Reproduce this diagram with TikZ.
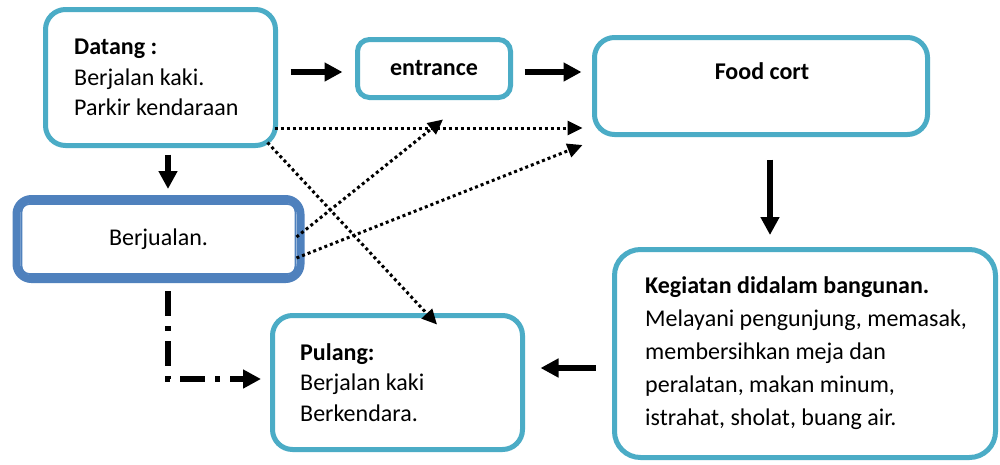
\documentclass[tikz,border=0pt]{standalone}
\usepackage{fontspec}
\setmainfont{Carlito}
\usetikzlibrary{arrows.meta,calc}
\definecolor{tealbd}{RGB}{75,172,198}
\definecolor{berjblue}{RGB}{79,129,189}
\begin{document}
\begin{tikzpicture}[x=1pt,y=-1pt,
  font=\fontsize{24}{30.5}\selectfont,
  box/.style={draw=tealbd, line width=5pt, rounded corners=20pt, inner sep=0pt},
  txt/.style={align=left, inner sep=0pt, anchor=west},
  solidarrow/.style={line width=5.5pt, -{Triangle[length=18pt,width=18pt]}},
  dotarrow/.style={line width=3pt, dash pattern=on 3pt off 3pt, -{Triangle[length=15pt,width=14pt]}},
  dasharrow/.style={line width=5.5pt, dash pattern=on 25pt off 10pt on 5pt off 10pt, -{Triangle[length=18pt,width=18pt]}}
]
\useasboundingbox (0,0) rectangle (1000,464);
\fill[white] (0,0) rectangle (1000,464);

% boxes
\node[box, minimum width=230pt, minimum height=136pt] (datang) at (160.5,77.5) {};
\node[box, rounded corners=12pt, minimum width=153pt, minimum height=58pt, font=\fontsize{24}{30.5}\selectfont\bfseries] (entrance) at (434,68.5) {entrance};
\node[box, minimum width=333pt, minimum height=97pt] (food) at (761,86) {};
\node[draw=berjblue, line width=8pt, rounded corners=15pt, minimum width=284pt, minimum height=80pt, inner sep=0pt] (berj) at (158.5,239) {Berjualan.};
\draw[berjblue, line width=1.8pt, rounded corners=8pt] ($(berj.north west)+(9,9)$) rectangle ($(berj.south east)+(-9,-9)$);
\node[box, minimum width=250pt, minimum height=134pt] (pulang) at (397.5,382.5) {};
\node[box, rounded corners=26pt, minimum width=381pt, minimum height=208pt] (keg) at (805,353.5) {};

% texts
\node[txt] (datangtxt) at (74,77.5) {\textbf{Datang :}\\Berjalan kaki.\\Parkir kendaraan};
\node[inner sep=0pt, font=\fontsize{24}{30.5}\selectfont\bfseries] (foodtxt) at (762,71) {Food cort};
\node[txt] (pulangtxt) at (300,382.5) {\textbf{Pulang:}\\Berjalan kaki\\Berkendara.};
\node[txt, font=\fontsize{24}{33}\selectfont] (kegtxt) at (645,353) {\textbf{Kegiatan didalam bangunan.}\\Melayani pengunjung, memasak,\\membersihkan meja dan\\peralatan, makan minum,\\istrahat, sholat, buang air.};

% solid arrows
\draw[solidarrow] ($(datang.east |- entrance.west)+(12.5,3.5)$) -- ($(entrance.west)+(-12.5,3.5)$);
\draw[solidarrow] ($(entrance.east)+(11.5,3.5)$) -- ($(food.west |- entrance.west)+(-10.5,3.5)$);
\draw[solidarrow] ($(datang.south)+(7.5,6.5)$) -- ($(datang.south |- berj.north)+(7.5,-6)$);
\draw[solidarrow] ($(food.south)+(9,22.5)$) -- ($(food.south |- keg.north)+(9,-12)$);
\draw[solidarrow] ($(keg.west)+(-16.5,14.5)$) -- ($(pulang.east)+(15.5,-14.5)$);

% dash-dot arrow
\draw[dasharrow] ($(berj.south)+(9.5,8)$) |- ($(pulang.west)+(-9,-3.5)$);

% dotted arrows
\draw[dotarrow] ($(datang.east)+(-3.5,50.5)$) -- ($(food.west)+(-9.5,42)$);
\draw[dotarrow] ($(datang.south east)+(-10.5,-5.5)$) -- ($(pulang.north)+(39.5,11.5)$);
\draw[dotarrow] ($(berj.east)+(-8,-2)$) -- ($(entrance.south)+(9,19.5)$);
\draw[dotarrow] ($(berj.east)+(-8,19)$) -- ($(food.west)+(-9.5,59)$);
\end{tikzpicture}
\end{document}
